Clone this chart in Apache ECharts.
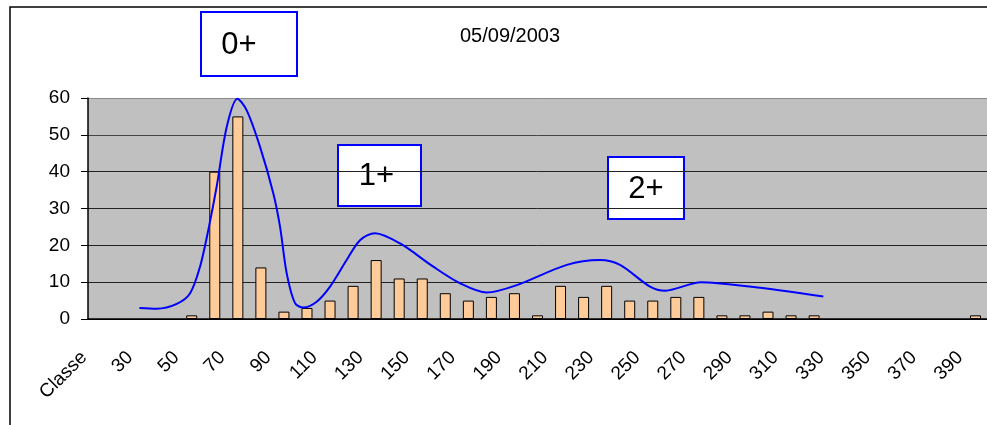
<!DOCTYPE html>
<html>
<head>
<meta charset="utf-8">
<script src="https://cdn.jsdelivr.net/npm/echarts@6/dist/echarts.min.js"></script>
<style>
  html, body { margin: 0; padding: 0; background: #fff; }
  #chart { width: 987px; height: 425px; }
</style>
</head>
<body>
<div id="chart"></div>
<script>
// size classes (first category is the header cell "Classe")
const categories = ['Classe', '20', '30', '40', '50', '60', '70', '80', '90', '100',
  '110', '120', '130', '140', '150', '160', '170', '180', '190', '200',
  '210', '220', '230', '240', '250', '260', '270', '280', '290', '300',
  '310', '320', '330', '340', '350', '360', '370', '380', '390'];

// counts per class, '-' = empty
const counts = ['-', '-', '-', '-', 1, 40, 55, 14, 2, 3,
  5, 9, 16, 11, 11, 7, 5, 6, 7, 1,
  9, 6, 9, 5, 5, 6, 6, 1, 1, 2,
  1, 1, '-', '-', '-', '-', '-', '-', 1];

// hand drawn cohort curve, x in category units from the left edge
const curveX = [2.23, 2.98, 3.85, 4.43, 4.86, 5.22, 5.58, 6.02, 6.48, 6.88,
  7.46, 8.04, 8.33, 8.62, 8.98, 9.34, 9.92, 10.5, 11.22, 11.8,
  12.45, 13.54, 14.98, 16.14, 17.3, 18.6, 20.77, 22.2, 23.08, 24.38,
  25.05, 26.6, 28.7, 31.9];
const curveY = [3.0, 2.8, 4.1, 7.0, 14.2, 24.2, 35.9, 52.2, 59.8, 56.7,
  46.8, 34.1, 25.1, 12.4, 4.3, 3.1, 4.7, 8.8, 16.0, 21.4,
  23.3, 20.5, 14.2, 9.7, 7.2, 9.2, 14.7, 16.0, 14.7, 8.8,
  7.7, 10.0, 8.8, 6.1];

const yTicks = [0, 10, 20, 30, 40, 50, 60];
const title = '05/09/2003';
const boxes = [
  { text: '0+', left: 200, top: 11, width: 96, height: 64, dx: -10 },
  { text: '1+', left: 337, top: 144, width: 83, height: 61, dx: -3 },
  { text: '2+', left: 607, top: 156, width: 76, height: 62, dx: 0 },
];

const font = "'Liberation Sans', Arial, sans-serif";
const chart = echarts.init(document.getElementById('chart'));

function boxGraphic(b) {
  return {
    type: 'group',
    left: b.left,
    top: b.top,
    z: 100,
    children: [
      {
        type: 'rect',
        shape: { x: 0, y: 0, width: b.width, height: b.height },
        style: { fill: '#fff', stroke: '#0000ff', lineWidth: 2 },
      },
      {
        type: 'text',
        x: b.width / 2 + b.dx,
        y: b.height / 2 + 1,
        style: {
          text: b.text, fill: '#000', font: '31px ' + font,
          textAlign: 'center', textVerticalAlign: 'middle',
        },
      },
    ],
  };
}

chart.setOption({
  animation: false,
  backgroundColor: '#fff',
  title: {
    text: title,
    left: 455,
    top: 21,
    textStyle: { fontFamily: font, fontSize: 20, fontWeight: 'normal', color: '#000' },
  },
  grid: {
    left: 88, right: 0, top: 98, bottom: 106,
    show: true, backgroundColor: '#c0c0c0', borderWidth: 0,
  },
  xAxis: [
    {
      type: 'category',
      data: categories,
      boundaryGap: true,
      axisLine: { lineStyle: { color: '#000', width: 1.5 } },
      axisTick: { interval: 0, length: 6, lineStyle: { color: '#000' } },
      axisLabel: {
        interval: 1, rotate: 45, margin: 20, padding: [0, 22, 0, 0],
        color: '#000', fontFamily: font, fontSize: 19,
      },
      splitLine: { show: false },
    },
    {
      type: 'value', min: 0, max: categories.length, show: false,
    },
  ],
  yAxis: {
    type: 'value',
    min: yTicks[0],
    max: yTicks[yTicks.length - 1],
    interval: 10,
    axisLine: { show: true, lineStyle: { color: '#000', width: 1.5 } },
    axisTick: { show: true, length: 7, lineStyle: { color: '#000' } },
    axisLabel: { margin: 18, color: '#000', fontFamily: font, fontSize: 19 },
    splitLine: {
      lineStyle: { color: ['#000', '#222', '#222', '#222', '#222', '#444', '#8a8a8a'], width: 1 },
    },
  },
  series: [
    {
      type: 'bar',
      data: counts,
      barWidth: 11,
      itemStyle: { color: '#ffcc99', borderColor: '#000', borderWidth: 1 },
    },
    {
      type: 'line',
      xAxisIndex: 1,
      data: curveX.map((x, i) => [x, curveY[i]]),
      smooth: 0.3,
      showSymbol: false,
      lineStyle: { color: '#0000ff', width: 2 },
      z: 5,
    },
  ],
  graphic: [
    {
      type: 'rect',
      shape: { x: 10, y: 7, width: 1100, height: 600 },
      style: { fill: 'none', stroke: '#000', lineWidth: 1.5 },
      z: 120,
    },
  ].concat(boxes.map(boxGraphic)),
});
</script>
</body>
</html>
